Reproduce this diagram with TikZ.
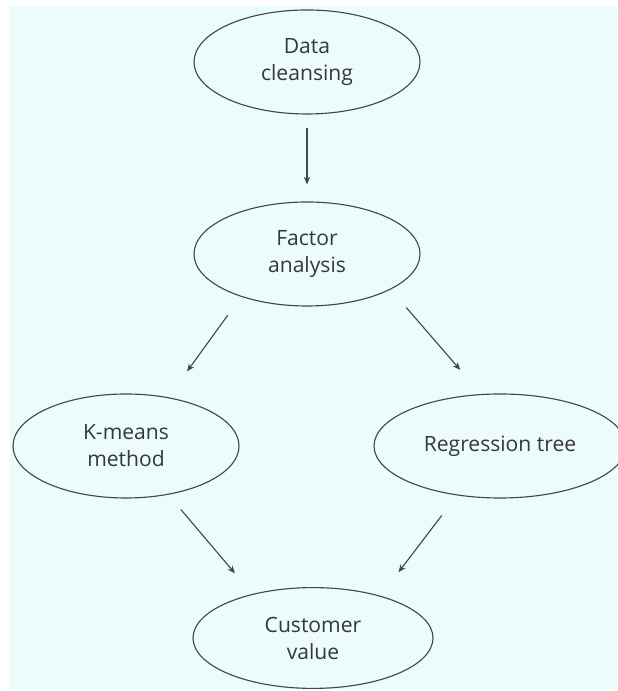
\documentclass[tikz,border=0pt]{standalone}
\usepackage{fontspec}
\setmainfont{Open Sans}
\usepackage{tikz}
\usetikzlibrary{shapes.geometric,arrows.meta}
\usepackage{xcolor}
\definecolor{bgcyan}{RGB}{236,251,252}
\definecolor{inkgray}{RGB}{70,70,70}
\definecolor{textgray}{RGB}{55,55,55}

\begin{document}
\begin{tikzpicture}[
    stage/.style={draw=inkgray,ellipse,line width=0.8pt,inner sep=0pt,minimum width=5.65cm,minimum height=2.6cm,align=center,text=textgray,font=\fontsize{15}{19.2}\selectfont},
    flow/.style={-{Stealth[length=5.5pt,width=4.5pt]},line width=0.8pt,draw=inkgray}
  ]
    % Canvas and background
    \useasboundingbox (0,0) rectangle (15.425,17.275);
    \fill[white] (0,0) rectangle (15.425,17.275);
    \fill[bgcyan] (0.25,0.05) rectangle (15.425,17.125);

    % Stages
    \node[stage] (clean) at (7.675,15.725) {Data\\cleansing};
    \node[stage] (factor) at (7.675,10.925) {Factor\\analysis};
    \node[stage] (kmeans) at (3.15,6.125) {K-means\\method};
    \node[stage,minimum width=6.3cm] (regtree) at (12.5,6.125) {Regression tree};
    \node[stage,minimum width=6.0cm,minimum height=2.52cm] (custval) at (7.825,1.325) {Customer\\value};

    % Arrows
    \draw[flow,shorten <=0.325cm,shorten >=0.425cm] (clean) -- (factor);
    \draw[flow,shorten <=0.57cm,shorten >=0.795cm] (factor.213) -- (kmeans.49);
    \draw[flow,shorten <=0.595cm,shorten >=0.795cm] (factor.337) -- (regtree.110);
    \draw[flow,shorten <=0.485cm,shorten >=0.675cm] (kmeans.311) -- (custval.144);
    \draw[flow,shorten <=0.63cm,shorten >=0.74cm] (regtree.229) -- (custval.32);
  \end{tikzpicture}
\end{document}
